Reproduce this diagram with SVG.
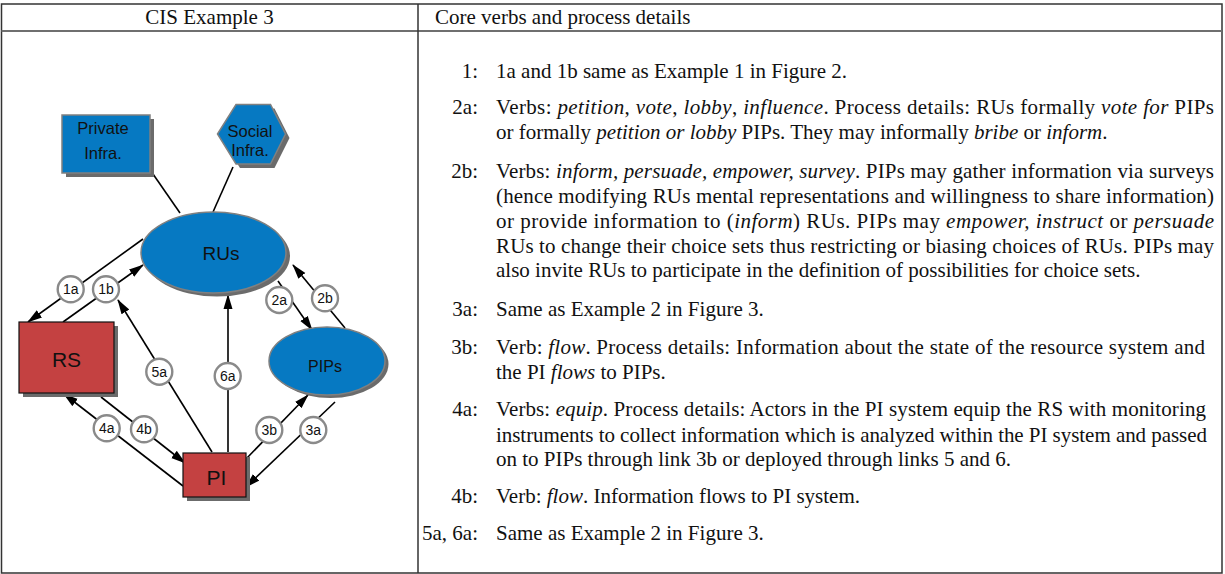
<svg xmlns="http://www.w3.org/2000/svg" width="1225" height="574" viewBox="0 0 1225 574">
<style>
.tbl{fill:none;stroke:#333;stroke-width:1.5}
.hdr{stroke:#6f6f6f;stroke-width:2}
.tx{font-family:"Liberation Serif","Times New Roman",serif;font-size:21px;fill:#111}
.lb{font-family:"Liberation Serif","Times New Roman",serif;font-size:21px;fill:#111;text-anchor:end}
.it{font-style:italic}
.sh{fill:#6b6b6b}
.blue{fill:#0679c2;stroke:#808080;stroke-width:1.5}
.red{fill:#c44141;stroke:#111;stroke-width:1.2}
.nt{font-family:"Liberation Sans",Arial,sans-serif;fill:#111;text-anchor:middle}
.cn{stroke:#000;stroke-width:1.6;fill:none;marker-end:url(#ah)}
.ln{stroke:#000;stroke-width:1.6;fill:none}
.lc{fill:#fff;stroke:#8a8a8a;stroke-width:2.4}
.lt{font-family:"Liberation Sans",Arial,sans-serif;font-size:14px;fill:#111;text-anchor:middle}
</style>
<defs>
<marker id="ah" markerUnits="userSpaceOnUse" markerWidth="15" markerHeight="10" refX="14" refY="5" orient="auto">
<path d="M0,0.5 L15,5 L0,9.5 z" fill="#000"/>
</marker>
</defs>
<rect width="1225" height="574" fill="#fff"/>
<g id="table">
<rect class="tbl" x="1.5" y="4" width="1220.5" height="569"/>
<line class="hdr" x1="1.5" y1="31" x2="1222" y2="31"/>
<line class="tbl" x1="418" y1="4" x2="418" y2="573"/>
<text class="tx" x="209.5" y="23.5" text-anchor="middle">CIS Example 3</text>
<text class="tx" x="435" y="23.5">Core verbs and process details</text>
</g>
<g id="connectors">
<line class="ln" x1="153" y1="174" x2="180" y2="213"/>
<line class="ln" x1="233" y1="167" x2="213" y2="212"/>
<path class="cn" d="M143,239 L28,322"/>
<path class="cn" d="M63,322 L143,265"/>
<path class="cn" d="M212,452 L118,300"/>
<path class="cn" d="M228,452 L228,295"/>
<path class="cn" d="M278,281 L312,330"/>
<path class="cn" d="M345,328 L293,265"/>
<path class="cn" d="M183,486 L64,394"/>
<path class="cn" d="M101,397 L185,463"/>
<path class="cn" d="M246,459 L308,395"/>
<path class="cn" d="M335,402 L246,487"/>
<g id="labels">
<circle class="lc" cx="70.7" cy="289.3" r="13"/><text class="lt" x="70.7" y="294.3">1a</text>
<circle class="lc" cx="106" cy="289.3" r="13"/><text class="lt" x="106" y="294.3">1b</text>
<circle class="lc" cx="159.3" cy="371.7" r="13"/><text class="lt" x="159.3" y="376.7">5a</text>
<circle class="lc" cx="227.7" cy="376" r="13"/><text class="lt" x="227.7" y="381">6a</text>
<circle class="lc" cx="279.3" cy="300" r="13"/><text class="lt" x="279.3" y="304.5" font-size="12">2a</text>
<circle class="lc" cx="325" cy="298.3" r="13"/><text class="lt" x="325" y="303.3">2b</text>
<circle class="lc" cx="106.7" cy="428.3" r="13"/><text class="lt" x="106.7" y="433.3">4a</text>
<circle class="lc" cx="144" cy="429.3" r="13"/><text class="lt" x="144" y="434.3">4b</text>
<circle class="lc" cx="269.3" cy="430" r="13"/><text class="lt" x="269.3" y="435">3b</text>
<circle class="lc" cx="313.3" cy="430" r="13"/><text class="lt" x="313.3" y="435">3a</text>
</g>
</g>
<g id="private-infra">
<rect class="sh" x="66" y="119" width="88" height="58"/>
<rect class="blue" x="62" y="115" width="88" height="58"/>
<text class="nt" font-size="16.5" x="103" y="133.5">Private</text>
<text class="nt" font-size="16.5" x="103" y="159">Infra.</text>
</g>
<g id="social-infra">
<polygon class="sh" points="221.5,138 240,108.5 274.5,108.5 289.5,138 274.5,168 240,168"/>
<polygon class="blue" points="217.5,134 236,104.5 270.5,104.5 285.5,134 270.5,164 236,164"/>
<text class="nt" font-size="16.5" x="250" y="137">Social</text>
<text class="nt" font-size="16.5" x="250" y="155.5">Infra.</text>
</g>
<g id="rus">
<ellipse class="sh" cx="217" cy="256" rx="73" ry="40.5"/>
<ellipse class="blue" cx="213.5" cy="252.5" rx="72.5" ry="40.5"/>
<text class="nt" font-size="19" x="221" y="260">RUs</text>
</g>
<g id="pips">
<ellipse class="sh" cx="330.5" cy="364" rx="58" ry="34"/>
<ellipse class="blue" cx="327" cy="361" rx="58" ry="34"/>
<text class="nt" font-size="16" x="325" y="371.5">PIPs</text>
</g>
<g id="rs">
<rect class="sh" x="23" y="326" width="95" height="71"/>
<rect class="red" x="19" y="322" width="95" height="71"/>
<text class="nt" font-size="21" x="66.5" y="366.5">RS</text>
</g>
<g id="pi">
<rect class="sh" x="187" y="457" width="63" height="44"/>
<rect class="red" x="183" y="453" width="63" height="44"/>
<text class="nt" font-size="21" x="216.5" y="485">PI</text>
</g>
<g id="details">
<text class="lb" x="478" y="78">1:</text>
<text class="tx" x="496" y="78">1a and 1b same as Example 1 in Figure 2.</text>
<text class="lb" x="478" y="114">2a:</text>
<text class="tx" x="496" y="114" textLength="718" lengthAdjust="spacing">Verbs: <tspan class="it">petition</tspan>, <tspan class="it">vote</tspan>, <tspan class="it">lobby</tspan>, <tspan class="it">influence</tspan>. Process details: RUs formally <tspan class="it">vote for</tspan> PIPs</text>
<text class="tx" x="496" y="139">or formally <tspan class="it">petition or lobby</tspan> PIPs. They may informally <tspan class="it">bribe</tspan> or <tspan class="it">inform</tspan>.</text>
<text class="lb" x="478" y="178">2b:</text>
<text class="tx" x="496" y="178" textLength="718" lengthAdjust="spacing">Verbs: <tspan class="it">inform, persuade, empower, survey</tspan>. PIPs may gather information via surveys</text>
<text class="tx" x="496" y="203" textLength="718" lengthAdjust="spacing">(hence modifying RUs mental representations and willingness to share information)</text>
<text class="tx" x="496" y="228" textLength="718" lengthAdjust="spacing">or provide information to (<tspan class="it">inform</tspan>) RUs. PIPs may <tspan class="it">empower, instruct</tspan> or <tspan class="it">persuade</tspan></text>
<text class="tx" x="496" y="252.5" textLength="718" lengthAdjust="spacing">RUs to change their choice sets thus restricting or biasing choices of RUs. PIPs may</text>
<text class="tx" x="496" y="277">also invite RUs to participate in the definition of possibilities for choice sets.</text>
<text class="lb" x="478" y="316">3a:</text>
<text class="tx" x="496" y="316">Same as Example 2 in Figure 3.</text>
<text class="lb" x="478" y="353.5">3b:</text>
<text class="tx" x="496" y="353.5" textLength="709" lengthAdjust="spacing">Verb: <tspan class="it">flow</tspan>. Process details: Information about the state of the resource system and</text>
<text class="tx" x="496" y="378.5">the PI <tspan class="it">flows</tspan> to PIPs.</text>
<text class="lb" x="478" y="416">4a:</text>
<text class="tx" x="496" y="416" textLength="710" lengthAdjust="spacing">Verbs: <tspan class="it">equip</tspan>. Process details: Actors in the PI system equip the RS with monitoring</text>
<text class="tx" x="496" y="441.5" textLength="711" lengthAdjust="spacing">instruments to collect information which is analyzed within the PI system and passed</text>
<text class="tx" x="496" y="466">on to PIPs through link 3b or deployed through links 5 and 6.</text>
<text class="lb" x="478" y="503">4b:</text>
<text class="tx" x="496" y="503">Verb: <tspan class="it">flow</tspan>. Information flows to PI system.</text>
<text class="lb" x="478" y="540">5a, 6a:</text>
<text class="tx" x="496" y="540">Same as Example 2 in Figure 3.</text>
</g>
</svg>
